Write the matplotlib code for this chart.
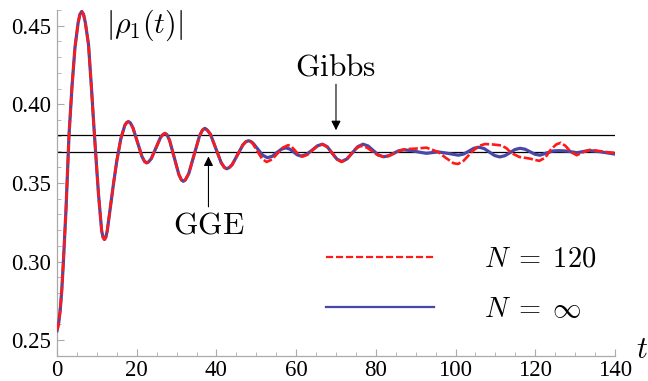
import numpy as np
import matplotlib
matplotlib.use('Agg')
import matplotlib.pyplot as plt
from matplotlib.lines import Line2D

plt.rcParams['mathtext.fontset'] = 'cm'
plt.rcParams['font.family'] = 'Liberation Serif'

# values
t_common = [0, 0.4, 0.8, 1.2, 1.6, 2.25, 3.0, 3.75, 4.5, 5.3, 5.75, 6.2, 6.65, 7.1, 7.9, 8.65,
            9.4, 10.4, 11.2, 11.55, 11.9, 12.25, 12.6, 13.3, 14.2, 15.0, 16.0, 17.0, 17.45,
            17.9, 18.4, 19.05, 20.2, 21.35, 22.0, 22.5, 23.0, 23.65, 24.8, 25.95, 26.6, 27.1,
            27.6, 28.25, 29.4, 30.55, 31.2, 31.7, 32.2, 33.05, 34.4, 35.75, 36.5, 37.1, 37.7,
            38.5, 39.85, 41.2, 42.0, 42.6, 43.2, 43.95, 45.3, 46.65, 47.4, 48.0]
rho_common = [0.256, 0.2605, 0.269, 0.282, 0.300, 0.333, 0.380, 0.411, 0.436, 0.452, 0.4572,
              0.459, 0.4572, 0.452, 0.438, 0.410, 0.380, 0.343, 0.3195, 0.3154, 0.314, 0.3154,
              0.3195, 0.333, 0.350, 0.364, 0.378, 0.3865, 0.3883, 0.389, 0.3882, 0.385, 0.3758,
              0.3665, 0.3635, 0.3627, 0.3634, 0.3654, 0.3721, 0.3788, 0.3808, 0.3815, 0.3806,
              0.3770, 0.3662, 0.3555, 0.3519, 0.351, 0.3519, 0.3559, 0.3679, 0.3798, 0.3836,
              0.3847, 0.3836, 0.3809, 0.3718, 0.3628, 0.3598, 0.359, 0.3597, 0.3616, 0.3679,
              0.3742, 0.3762, 0.3768]

t_inf_tail = [48.6, 49.2, 50.4, 51.6, 52.8, 54.0, 55.1, 56.3, 57.4, 58.4, 59.35, 60.3, 61.3, 62.6,
              64.0, 65.3, 66.6, 67.8, 69.0, 70.2, 71.4, 72.75, 74.1, 75.45, 76.8, 78.1, 79.35,
              80.6, 81.9, 83.2, 84.45, 85.7, 87.0, 89.0, 91.0, 92.7, 95.6, 98.0, 100.7, 102.0,
              103.3, 104.6, 105.9, 107.2, 108.5, 109.8, 111.1, 112.4, 113.65, 114.9, 116.2,
              117.45, 118.7, 119.95, 121.2, 122.8, 124.5, 126.0, 128.0, 130.5, 133.5, 136.5, 140.0]
rho_inf_tail = [0.3764, 0.3752, 0.3714, 0.3676, 0.366, 0.3669, 0.3692, 0.3714, 0.3723, 0.3715,
                0.3697, 0.3678, 0.367, 0.3681, 0.3708, 0.3735, 0.3746, 0.373, 0.3691, 0.3652,
                0.3636, 0.3652, 0.3691, 0.373, 0.3746, 0.3734, 0.3706, 0.3678, 0.3666, 0.3672,
                0.3688, 0.3704, 0.371, 0.3705, 0.3695, 0.3688, 0.3697, 0.3688, 0.3676, 0.3683,
                0.3701, 0.372, 0.3727, 0.3718, 0.3696, 0.3674, 0.3665, 0.3673, 0.3692, 0.3712,
                0.372, 0.3714, 0.3698, 0.3682, 0.3676, 0.3690, 0.3703, 0.3705, 0.3702, 0.3692,
                0.3706, 0.3697, 0.3683]

t_120_tail = [48.6, 49.15, 50.3, 51.45, 52.6, 53.95, 55.3, 56.65, 58.0, 58.9, 59.8, 60.7, 61.6,
              62.85, 64.1, 65.35, 66.6, 67.8, 69.0, 70.2, 71.4, 72.6, 73.85, 75.05, 76.3, 77.7,
              79.1, 80.5, 81.9, 83.4, 84.85, 86.3, 87.8, 90.0, 92.7, 95.6, 97.5, 99.5, 100.6,
              102.0, 104.0, 105.8, 107.4, 109.5, 111.5, 112.8, 114.0, 116.0, 118.5, 121.0,
              122.5, 124.0, 125.3, 126.4, 127.6, 129.0, 130.4, 132.0, 133.7, 135.5, 137.5, 140.0]
rho_120_tail = [0.3762, 0.3748, 0.3700, 0.3653, 0.3633, 0.3649, 0.3687, 0.3724, 0.374, 0.3729,
                0.3703, 0.3678, 0.3667, 0.3679, 0.3707, 0.3734, 0.3746, 0.3729, 0.3690, 0.3650,
                0.3633, 0.3648, 0.3684, 0.3720, 0.3735, 0.3725, 0.3701, 0.3676, 0.3666, 0.3673,
                0.3690, 0.3708, 0.3715, 0.3718, 0.3724, 0.3697, 0.3660, 0.3625, 0.3620, 0.3640,
                0.3695, 0.3735, 0.3747, 0.3744, 0.3738, 0.3720, 0.3690, 0.3665, 0.3655, 0.3640,
                0.3660, 0.3715, 0.3745, 0.3755, 0.3735, 0.3695, 0.3676, 0.3695, 0.3710, 0.3705,
                0.3697, 0.3691]

t_inf = t_common + t_inf_tail
rho_inf = rho_common + rho_inf_tail
t_120 = t_common + t_120_tail
rho_120 = rho_common + rho_120_tail

gibbs = 0.3805
gge = 0.3698
gibbs_t = 70
gge_t = 38

fig = plt.figure(figsize=(6.48, 3.81), dpi=100)
ax = fig.add_axes([0.088, 0.066, 0.861, 0.908])

blue = '#4848a8'
ax.plot(t_inf, rho_inf, color=blue, lw=2.3, solid_joinstyle='round', zorder=3)
ax.plot(t_120, rho_120, color='#ff1a1a', lw=1.9, dashes=(3.5, 1.0), zorder=4)

ax.axhline(gibbs, color='black', lw=0.9, zorder=2)
ax.axhline(gge, color='black', lw=0.9, zorder=2)

ax.annotate('', xy=(gibbs_t, gibbs + 0.0012), xytext=(gibbs_t, 0.4145),
            arrowprops=dict(arrowstyle='-|>', color='black', lw=0.8, mutation_scale=14))
ax.text(gibbs_t, 0.4180, r'$\mathrm{Gibbs}$', ha='center', va='baseline', fontsize=22.5)
ax.annotate('', xy=(gge_t, gge - 0.0012), xytext=(gge_t, 0.333),
            arrowprops=dict(arrowstyle='-|>', color='black', lw=0.8, mutation_scale=14))
ax.text(gge_t, 0.3175, r'$\mathrm{GGE}$', ha='center', va='baseline', fontsize=22.5)

ax.text(22, 0.4505, r'$|\rho_1(t)|$', ha='center', va='center', fontsize=21.5)
fig.text(0.991, 0.080, r'$t$', ha='center', va='center', fontsize=22)

ax.set_xlim(0, 140)
ax.set_ylim(0.24, 0.46)
ax.set_xticks(np.arange(0, 141, 20))
ax.set_xticks(np.arange(0, 141, 5), minor=True)
ax.set_yticks([0.25, 0.30, 0.35, 0.40, 0.45])
ax.set_yticklabels(['0.25', '0.30', '0.35', '0.40', '0.45'])
ax.set_yticks(np.arange(0.24, 0.4601, 0.01), minor=True)
for s in ['top', 'right']:
    ax.spines[s].set_visible(False)
for s in ['left', 'bottom']:
    ax.spines[s].set_color('#aaaaaa')
    ax.spines[s].set_linewidth(0.9)
ax.tick_params(which='both', direction='in', color='#aaaaaa', labelsize=16.5)
ax.tick_params(which='major', length=5, width=0.8)
ax.tick_params(which='minor', length=3, width=0.6)
ax.tick_params(axis='y', pad=4)
ax.tick_params(axis='x', pad=3)

handles = [Line2D([], [], color='#ff1a1a', lw=1.6, dashes=(3.2, 1.3)),
           Line2D([], [], color=blue, lw=1.6)]
fig.legend(handles, [r'$N\;=\;120$', r'$N\;=\;\infty$'], loc='center left',
           bbox_to_anchor=(0.503, 0.253), bbox_transform=fig.transFigure,
           frameon=False, fontsize=20.5, handlelength=3.8, handletextpad=1.75,
           labelspacing=0.85, borderpad=0, borderaxespad=0)

fig.savefig('out.png', dpi=100)
